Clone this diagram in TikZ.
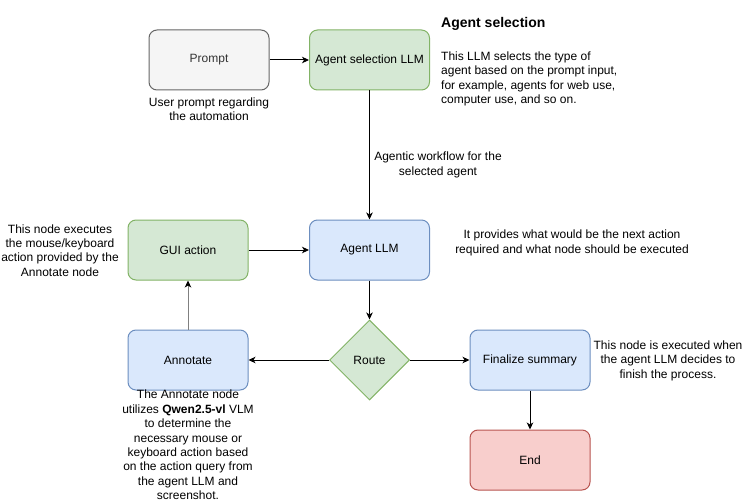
\documentclass[tikz,border=0pt]{standalone}
\usepackage{fontspec}
\setmainfont{Liberation Sans}
\usetikzlibrary{shapes.geometric,arrows.meta}
\definecolor{grayfill}{HTML}{F5F5F5}
\definecolor{graystroke}{HTML}{666666}
\definecolor{greenfill}{HTML}{D5E8D4}
\definecolor{greenstroke}{HTML}{82B366}
\definecolor{bluefill}{HTML}{DAE8FC}
\definecolor{bluestroke}{HTML}{6C8EBF}
\definecolor{redfill}{HTML}{F8CECC}
\definecolor{redstroke}{HTML}{B85450}
\definecolor{darktext}{HTML}{333333}
\tikzset{
  every node/.style={font=\fontsize{12}{14.4}\selectfont},
  box/.style={rectangle, rounded corners=8pt, minimum width=120pt, minimum height=60pt, inner sep=0pt, line width=1pt},
  graybox/.style={box, fill=grayfill, draw=graystroke, text=darktext},
  greenbox/.style={box, fill=greenfill, draw=greenstroke},
  bluebox/.style={box, fill=bluefill, draw=bluestroke},
  redbox/.style={box, fill=redfill, draw=redstroke},
  note/.style={align=center, inner sep=0pt},
  conn/.style={line width=1pt, -{Stealth[length=7pt,width=6.5pt,inset=2pt]}},
  grayconn/.style={conn, draw=black!50, -{Stealth[length=7pt,width=6.5pt,inset=2pt,color=black]}},
}
\begin{document}
\begin{tikzpicture}[x=1pt,y=-1pt]
\useasboundingbox (0,0) rectangle (750,503);
% boxes
\node[graybox] (prompt) at (209,60) {Prompt};
\node[greenbox] (asl) at (369.5,60) {Agent selection LLM};
\node[bluebox] (agent) at (369.5,250) {Agent LLM};
\node[greenbox] (gui) at (188,250) {GUI action};
\node[bluebox] (annot) at (188,360) {Annotate};
\node[diamond, aspect=1, minimum width=80pt, minimum height=80pt, inner sep=0pt, fill=greenfill, draw=greenstroke, line width=1pt] (route) at (369.5,360) {Route};
\node[bluebox] (final) at (530,360) {Finalize summary};
\node[redbox] (end) at (530,460) {End};
% connectors
\draw[conn] (prompt) -- (asl);
\draw[conn] (asl) -- (agent);
\draw[conn] (gui) -- (agent);
\draw[conn] (agent) -- (route);
\draw[conn] (route) -- (annot);
\draw[grayconn] (annot) -- (gui);
\draw[conn] (route) -- (final);
\draw[conn] (final) -- (end);
% texts
\node[note] (t1) at (209,109) {User prompt regarding\\the automation};
\node[anchor=west, inner sep=0pt, font=\fontsize{14}{17}\selectfont\bfseries] (t2) at (441,24) {Agent selection};
\node[anchor=north west, align=left, inner sep=0pt] (t3) at (441,51.5) {This LLM selects the type of\\agent based on the prompt input,\\for example, agents for web use,\\computer use, and so on.};
\node[note] (t4) at (438,165) {Agentic workflow for the\\selected agent};
\node[note] (t5) at (60,250.5) {This node executes\\the mouse/keyboard\\action provided by the\\Annotate node};
\node[note] (t6) at (572,243) {It provides what would be the next action\\required and what node should be executed};
\node[note] (t7) at (668,360.5) {This node is executed when\\the agent LLM decides to\\finish the process.};
\node[note] (t8) at (188,445) {The Annotate node\\utilizes \textbf{Qwen2.5-vl} VLM\\to determine the\\necessary mouse or\\keyboard action based\\on the action query from\\the agent LLM and\\screenshot.};
\end{tikzpicture}
\end{document}
